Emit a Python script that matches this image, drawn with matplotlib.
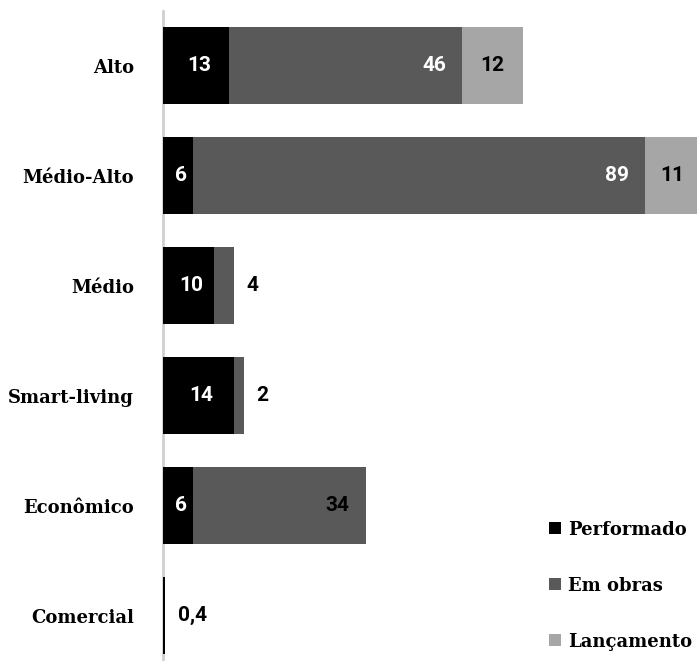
import matplotlib.pyplot as plt
import numpy as np

categorias = ['Alto', 'Médio-Alto', 'Médio', 'Smart-living', 'Econômico', 'Comercial']
performado = [13, 6, 10, 14, 6, 0.4]
em_obras = [46, 89, 4, 2, 34, 0]
lancamento = [12, 11, 0, 0, 0, 0]

rotulos_perf = ['13', '6', '10', '14', '6', '0,4']
rotulos_obras = ['46', '89', '4', '2', '34', '']
rotulos_lanc = ['12', '11', '', '', '', '']

cores = ['#000000', '#595959', '#a6a6a6']
serif = ['DejaVu Serif Condensed', 'DejaVu Serif']
num_font = 'Roboto'

fig = plt.figure(figsize=(6.97, 6.61), dpi=100)
ax = fig.add_axes([163 / 697, 0, 534 / 697, 650 / 661])

y = np.arange(len(categorias))
perf = np.array(performado)
obras = np.array(em_obras)
lanc = np.array(lancamento)
h = 0.7

ax.barh(y, perf, height=h, color=cores[0], label='Performado', zorder=2)
ax.barh(y, obras, left=perf, height=h, color=cores[1], label='Em obras', zorder=2)
ax.barh(y, lanc, left=perf + obras, height=h, color=cores[2], label='Lançamento', zorder=2)

# rótulos
for i in range(len(categorias)):
    if perf[i] >= 5:
        ax.text(perf[i] / 2 + 0.6, y[i], rotulos_perf[i], color='white', ha='center', va='center',
                fontsize=15, fontweight='bold', family=num_font)
    else:
        ax.text(perf[i] + 2.6, y[i], rotulos_perf[i], color='black', ha='left', va='center',
                fontsize=15, fontweight='bold', family=num_font)
    if rotulos_obras[i]:
        fim = perf[i] + obras[i]
        if obras[i] >= 10:
            cor = 'black' if i == 4 else 'white'
            ax.text(fim - 3.2, y[i], rotulos_obras[i], color=cor, ha='right', va='center',
                    fontsize=15, fontweight='bold', family=num_font)
        else:
            ax.text(fim + 2.4, y[i], rotulos_obras[i], color='black', ha='left', va='center',
                    fontsize=15, fontweight='bold', family=num_font)
    if rotulos_lanc[i]:
        ax.text(perf[i] + obras[i] + lanc[i] / 2, y[i], rotulos_lanc[i], color='black',
                ha='center', va='center', fontsize=15, fontweight='bold', family=num_font)

ax.set_xlim(0, 105.3)
ax.set_ylim(5.41, -0.5)
ax.set_xticks([])
ax.set_yticks(y)
ax.set_yticklabels(categorias, family=serif, fontweight='bold', fontsize=13)
ax.tick_params(axis='y', length=0, pad=21)
for s in ['top', 'right', 'bottom']:
    ax.spines[s].set_visible(False)
ax.spines['left'].set_color('#d0d0d0')
ax.spines['left'].set_linewidth(2)
ax.spines['left'].set_zorder(1)

leg = ax.legend(loc='lower right', bbox_to_anchor=(1.004, 0.005), frameon=False,
                prop={'family': serif, 'weight': 'bold', 'size': 13},
                handlelength=0.65, handleheight=0.65, handletextpad=0.4, labelspacing=2.1,
                borderaxespad=0.0)

plt.savefig('out.png', dpi=100)
